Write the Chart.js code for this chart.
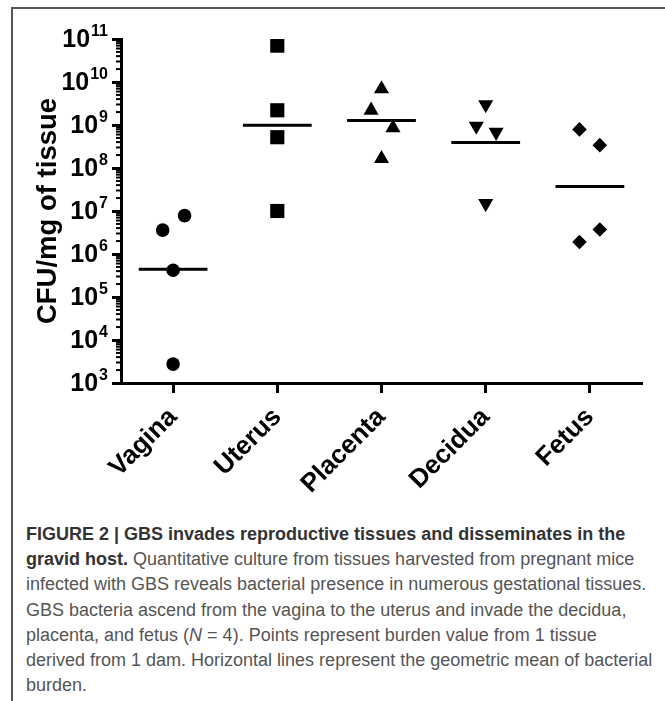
<!DOCTYPE html>
<html lang="en">
<head>
    <meta charset="UTF-8">
    <title>GBS tissue burden</title>
    <script src="https://cdn.jsdelivr.net/npm/chart.js"></script>
    <style>
        body {
            margin: 0;
            background: #fff;
            width: 665px;
            height: 701px;
            position: relative;
            overflow: hidden;
        }
        .frame {
            position: absolute;
            left: 11px;
            top: 7px;
            width: 660px;
            height: 700px;
            border-top: 2px solid #555;
            border-left: 2px solid #555;
        }
        #chartBox {
            position: absolute;
            left: 0;
            top: 0;
        }
        .caption {
            position: absolute;
            left: 26px;
            top: 522px;
            font-family: "Liberation Sans", Arial, sans-serif;
            font-size: 18px;
            line-height: 25.2px;
            color: #555;
            white-space: nowrap;
        }
        .caption b {
            color: #333;
        }
    </style>
</head>
<body>
<div class="frame"></div>
<canvas id="chartBox" width="665" height="500"></canvas>
<div class="caption">
    <div><b>FIGURE 2 | GBS invades reproductive tissues and disseminates in the</b></div>
    <div><b>gravid host.</b> Quantitative culture from tissues harvested from pregnant mice</div>
    <div>infected with GBS reveals bacterial presence in numerous gestational tissues.</div>
    <div>GBS bacteria ascend from the vagina to the uterus and invade the decidua,</div>
    <div>placenta, and fetus (<i>N</i> = 4). Points represent burden value from 1 tissue</div>
    <div>derived from 1 dam. Horizontal lines represent the geometric mean of bacterial</div>
    <div>burden.</div>
</div>
<script>
    // categories and values (CFU/mg of tissue)
    const categories = ['Vagina', 'Uterus', 'Placenta', 'Decidua', 'Fetus'];

    const vaginaValues = [7.8e6, 3.6e6, 4.2e5, 2.75e3];
    const uterusValues = [7.0e10, 2.2e9, 5.2e8, 1.0e7];
    const placentaValues = [6.9e9, 2.2e9, 8.6e8, 1.65e8];
    const deciduaValues = [3.0e9, 9.4e8, 6.8e8, 1.5e7];
    const fetusValues = [7.9e8, 3.4e8, 3.7e6, 1.9e6];

    // horizontal scatter of each point, in category units
    const vaginaJitter = [0.11, -0.10, 0, 0];
    const uterusJitter = [0, 0, 0, 0];
    const placentaJitter = [0, -0.10, 0.11, 0];
    const deciduaJitter = [0, -0.09, 0.10, 0];
    const fetusJitter = [-0.10, 0.095, 0.095, -0.10];

    // geometric means (horizontal lines)
    const meanValues = [4.4e5, 9.9e8, 1.27e9, 3.9e8, 3.7e7];

    const yExponents = [3, 4, 5, 6, 7, 8, 9, 10, 11];

    const FONT = '"Liberation Sans", Arial, sans-serif';

    function pts(values, jitter, idx) {
        return values.map((v, i) => ({x: idx + jitter[i], y: v}));
    }

    function group(label, values, jitter, idx, style, radius, rotation) {
        return {
            label: label,
            data: pts(values, jitter, idx),
            pointStyle: style,
            pointRadius: radius,
            pointRotation: rotation || 0,
            backgroundColor: '#000',
            borderColor: '#000',
            borderWidth: 0,
            showLine: false
        };
    }

    const meanSets = meanValues.map((m, i) => ({
        type: 'line',
        label: 'mean ' + categories[i],
        data: [{x: i - 0.33, y: m}, {x: i + 0.33, y: m}],
        borderColor: '#000',
        borderWidth: 3,
        pointRadius: 0,
        showLine: true,
        fill: false
    }));

    // y tick labels as 10 with a raised exponent, plus short minor ticks
    const yLabels = {
        id: 'yLabels',
        afterDraw(chart) {
            const ctx = chart.ctx;
            const y = chart.scales.y;
            const left = chart.chartArea.left;
            ctx.save();
            ctx.strokeStyle = '#000';
            ctx.lineWidth = 2;
            for (let e = 3; e < 11; e++) {
                for (let m = 2; m <= 9; m++) {
                    const py = y.getPixelForValue(m * Math.pow(10, e));
                    ctx.beginPath();
                    ctx.moveTo(left - 5, py);
                    ctx.lineTo(left, py);
                    ctx.stroke();
                }
            }
            ctx.fillStyle = '#000';
            ctx.textBaseline = 'middle';
            ctx.textAlign = 'right';
            yExponents.forEach(e => {
                const py = y.getPixelForValue(Math.pow(10, e));
                const xr = left - 13;
                const exp = String(e);
                ctx.font = 'bold 16px ' + FONT;
                ctx.fillText(exp, xr, py - 7);
                const ew = ctx.measureText(exp).width;
                ctx.font = 'bold 25px ' + FONT;
                ctx.fillText('10', xr - ew - 1, py + 1);
            });
            ctx.restore();
        }
    };

    const ctx = document.getElementById('chartBox').getContext('2d');
    new Chart(ctx, {
        type: 'scatter',
        data: {
            datasets: [
                group('Vagina', vaginaValues, vaginaJitter, 0, 'circle', 6.8),
                group('Uterus', uterusValues, uterusJitter, 1, 'rect', 10),
                group('Placenta', placentaValues, placentaJitter, 2, 'triangle', 8.7),
                group('Decidua', deciduaValues, deciduaJitter, 3, 'triangle', 8.7, 180),
                group('Fetus', fetusValues, fetusJitter, 4, 'rectRot', 7.3)
            ].concat(meanSets)
        },
        options: {
            responsive: false,
            animation: false,
            layout: {padding: {top: 39, right: 23, left: 0, bottom: 0}},
            plugins: {
                legend: {display: false},
                tooltip: {enabled: false}
            },
            scales: {
                x: {
                    type: 'linear',
                    min: -0.5,
                    max: 4.5,
                    afterBuildTicks: s => { s.ticks = categories.map((c, i) => ({value: i})); },
                    afterFit: s => { s.height = 117; },
                    grid: {
                        drawOnChartArea: false,
                        drawTicks: true,
                        tickLength: 10,
                        tickWidth: 3,
                        tickColor: '#000'
                    },
                    border: {display: true, width: 3, color: '#000'},
                    ticks: {
                        autoSkip: false,
                        minRotation: 45,
                        maxRotation: 45,
                        padding: 9,
                        color: '#000',
                        font: {family: FONT, size: 26, weight: 'bold'},
                        callback: v => categories[v]
                    }
                },
                y: {
                    type: 'logarithmic',
                    min: 1e3,
                    max: 1e11,
                    afterBuildTicks: s => { s.ticks = yExponents.map(e => ({value: Math.pow(10, e), major: true})); },
                    afterFit: s => { s.width = 121; },
                    grid: {
                        drawOnChartArea: false,
                        drawTicks: true,
                        tickLength: 9,
                        tickWidth: 3,
                        tickColor: '#000'
                    },
                    border: {display: true, width: 3, color: '#000'},
                    ticks: {display: false},
                    title: {
                        display: true,
                        text: 'CFU/mg of tissue',
                        color: '#000',
                        font: {family: FONT, size: 27.5, weight: 'bold'},
                        padding: {top: 32, bottom: 0}
                    }
                }
            }
        },
        plugins: [yLabels]
    });
</script>
</body>
</html>
